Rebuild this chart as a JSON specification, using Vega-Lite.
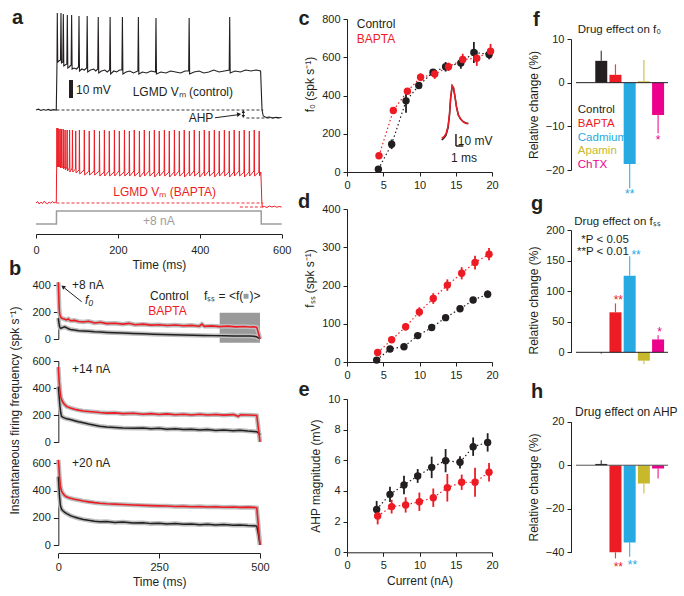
{
"$schema":"https://vega.github.io/schema/vega-lite/v6.json",
"width":684,"height":596,"autosize":{"type":"none"},"padding":0,"background":"white",
"config":{"font":"Liberation Sans","view":{"stroke":null},
"axis":{"grid":false,"domainColor":"#231f20","tickColor":"#231f20","labelColor":"#231f20","titleColor":"#231f20","labelFontSize":11,"titleFontSize":12,"titleFontWeight":"normal","tickSize":4,"labelPadding":3,"titlePadding":5,"labelFlush":false,"labelOverlap":false,"domainWidth":1,"tickWidth":1},
"axisX":{"titleFontWeight":"normal"},"axisY":{"titleFontWeight":"normal"},
"text":{"font":"Liberation Sans","fontSize":12}},
"datasets":{
"aC":[{"t":0,"v":124},{"t":6,"v":124.8},{"t":12,"v":123.6},{"t":18,"v":124.5},{"t":24,"v":123.8},{"t":30,"v":124.6},{"t":36,"v":123.7},{"t":42,"v":124.4},{"t":49.5,"v":124},{"t":50.5,"v":150},{"t":51.3,"v":172},{"t":52,"v":221},{"t":53,"v":172},{"t":56,"v":173},{"t":59.8,"v":174},{"t":61,"v":221},{"t":62.2,"v":171},{"t":65.5,"v":172},{"t":66.7,"v":220},{"t":67.9,"v":168},{"t":71,"v":169},{"t":75.3,"v":170},{"t":76.5,"v":219},{"t":77.7,"v":166},{"t":81,"v":167},{"t":85.8,"v":169},{"t":87,"v":219},{"t":88.2,"v":165},{"t":93,"v":166},{"t":99,"v":165},{"t":103.8,"v":167},{"t":105,"v":218},{"t":106.2,"v":163},{"t":112,"v":165},{"t":118,"v":164},{"t":123.8,"v":166},{"t":125,"v":218},{"t":126.2,"v":162},{"t":133,"v":164},{"t":141,"v":165},{"t":146,"v":163},{"t":150.8,"v":165},{"t":152,"v":217},{"t":153.2,"v":161},{"t":160,"v":163},{"t":168,"v":164},{"t":174,"v":162},{"t":179.8,"v":164},{"t":181,"v":217},{"t":182.2,"v":160},{"t":190,"v":163},{"t":197,"v":162},{"t":204,"v":164},{"t":209.8,"v":164},{"t":211,"v":217},{"t":212.2,"v":160},{"t":220,"v":162},{"t":229,"v":163},{"t":238,"v":161},{"t":248.8,"v":163},{"t":250,"v":217},{"t":251.2,"v":160},{"t":260,"v":162},{"t":270,"v":161},{"t":281,"v":163},{"t":291.8,"v":162},{"t":293,"v":216},{"t":294.2,"v":160},{"t":305,"v":162},{"t":317,"v":161},{"t":329,"v":163},{"t":341,"v":162},{"t":353,"v":161},{"t":364,"v":163},{"t":372.8,"v":163},{"t":374,"v":216},{"t":375.2,"v":160},{"t":386,"v":162},{"t":398,"v":163},{"t":410,"v":161},{"t":422,"v":162},{"t":434,"v":164},{"t":447,"v":162},{"t":460,"v":163},{"t":471.8,"v":164},{"t":473,"v":217},{"t":474.2,"v":161},{"t":486,"v":163},{"t":499,"v":162},{"t":512,"v":164},{"t":525,"v":163},{"t":538,"v":164},{"t":548.5,"v":163},{"t":550.5,"v":140},{"t":552,"v":124},{"t":555,"v":118},{"t":562,"v":116.5},{"t":570,"v":117},{"t":578,"v":116},{"t":586,"v":116.8},{"t":594,"v":116.2},{"t":600,"v":116.5}],
"aB":[{"t":0,"v":31},{"t":4,"v":32.5},{"t":8,"v":30},{"t":12,"v":31.8},{"t":16,"v":30.5},{"t":20,"v":32.8},{"t":24,"v":31},{"t":28,"v":30.2},{"t":32,"v":32},{"t":36,"v":30.8},{"t":40,"v":32.5},{"t":44,"v":31},{"t":48,"v":31.8},{"t":49.6,"v":31.2},{"t":50.2,"v":60},
{"t":50.6,"v":68},{"t":51,"v":106},{"t":51.8,"v":67},{"t":52.8,"v":69},{"t":53.5,"v":106},{"t":54.3,"v":67},{"t":55.3,"v":69},{"t":56,"v":105},{"t":56.8,"v":67},{"t":58.3,"v":69},{"t":59,"v":105},{"t":59.8,"v":66},{"t":61.8,"v":68},{"t":62.5,"v":105},{"t":63.3,"v":66},{"t":65.8,"v":68},{"t":66.5,"v":105},{"t":67.3,"v":65},{"t":70.3,"v":67},{"t":71,"v":104},{"t":71.8,"v":64},{"t":75.3,"v":67},{"t":76,"v":104},{"t":76.8,"v":63},{"t":81.3,"v":66},{"t":82,"v":104},{"t":82.8,"v":62},{"t":88.3,"v":66},{"t":89,"v":104},{"t":89.8,"v":62},{"t":96.3,"v":65},{"t":97,"v":103},{"t":97.8,"v":61},{"t":105.3,"v":64},{"t":106,"v":104},{"t":106.8,"v":60},{"t":117.3,"v":64},{"t":118,"v":104},{"t":118.8,"v":59},{"t":129.3,"v":63},{"t":130,"v":103},{"t":130.8,"v":59},{"t":141.8,"v":63},{"t":142.5,"v":104},{"t":143.3,"v":59},{"t":154.3,"v":63},{"t":155,"v":103},{"t":155.8,"v":58},{"t":166.3,"v":62},{"t":167,"v":104},{"t":167.8,"v":58},{"t":178.3,"v":63},{"t":179,"v":103},{"t":179.8,"v":58},{"t":190.8,"v":62},{"t":191.5,"v":104},{"t":192.3,"v":58},{"t":202.8,"v":63},{"t":203.5,"v":103},{"t":204.3,"v":58},{"t":215.3,"v":62},{"t":216,"v":104},{"t":216.8,"v":58},{"t":227.3,"v":62},{"t":228,"v":103},{"t":228.8,"v":58},{"t":239.3,"v":63},{"t":240,"v":104},{"t":240.8,"v":58},{"t":251.8,"v":62},{"t":252.5,"v":103},{"t":253.3,"v":57},{"t":263.8,"v":62},{"t":264.5,"v":104},{"t":265.3,"v":58},{"t":276.3,"v":63},{"t":277,"v":103},{"t":277.8,"v":58},{"t":288.3,"v":62},{"t":289,"v":104},{"t":289.8,"v":57},{"t":300.3,"v":62},{"t":301,"v":103},{"t":301.8,"v":58},{"t":312.8,"v":63},{"t":313.5,"v":104},{"t":314.3,"v":58},{"t":324.8,"v":62},{"t":325.5,"v":103},{"t":326.3,"v":57},{"t":337.3,"v":62},{"t":338,"v":104},{"t":338.8,"v":58},{"t":349.3,"v":63},{"t":350,"v":103},{"t":350.8,"v":58},{"t":361.3,"v":62},{"t":362,"v":104},{"t":362.8,"v":57},{"t":373.8,"v":62},{"t":374.5,"v":103},{"t":375.3,"v":58},{"t":385.8,"v":63},{"t":386.5,"v":104},{"t":387.3,"v":58},{"t":398.3,"v":62},{"t":399,"v":103},{"t":399.8,"v":57},{"t":410.3,"v":62},{"t":411,"v":104},{"t":411.8,"v":58},{"t":422.3,"v":63},{"t":423,"v":103},{"t":423.8,"v":58},{"t":434.8,"v":62},{"t":435.5,"v":104},{"t":436.3,"v":57},{"t":446.8,"v":62},{"t":447.5,"v":103},{"t":448.3,"v":58},{"t":459.3,"v":63},{"t":460,"v":104},{"t":460.8,"v":58},{"t":471.3,"v":62},{"t":472,"v":103},{"t":472.8,"v":57},{"t":483.3,"v":62},{"t":484,"v":104},{"t":484.8,"v":58},{"t":495.8,"v":63},{"t":496.5,"v":103},{"t":497.3,"v":58},{"t":507.8,"v":62},{"t":508.5,"v":104},{"t":509.3,"v":57},{"t":520.3,"v":62},{"t":521,"v":103},{"t":521.8,"v":58},{"t":532.3,"v":63},{"t":533,"v":104},{"t":533.8,"v":58},{"t":544.3,"v":62},{"t":545,"v":103},{"t":545.8,"v":58},
{"t":549,"v":62},{"t":550.5,"v":45},{"t":551.5,"v":31},{"t":553,"v":27},{"t":558,"v":27.5},{"t":564,"v":26.5},{"t":570,"v":28},{"t":576,"v":27},{"t":582,"v":27.8},{"t":588,"v":26.8},{"t":594,"v":27.5},{"t":600,"v":27}],
"aI":[{"t":0,"v":10},{"t":49.9,"v":10},{"t":50.1,"v":23},{"t":549.9,"v":23},{"t":550.1,"v":10},{"t":600,"v":10}],
"bt":[
{"p":"b1","s":"C","t":0,"v":155},{"p":"b1","s":"C","t":1.5,"v":120},{"p":"b1","s":"C","t":3,"v":92},{"p":"b1","s":"C","t":5,"v":80},{"p":"b1","s":"C","t":8,"v":82},{"p":"b1","s":"C","t":12,"v":86},{"p":"b1","s":"C","t":16,"v":90},{"p":"b1","s":"C","t":20,"v":84},{"p":"b1","s":"C","t":25,"v":76},{"p":"b1","s":"C","t":30,"v":71},{"p":"b1","s":"C","t":40,"v":66},{"p":"b1","s":"C","t":50,"v":62},{"p":"b1","s":"C","t":62,"v":60},{"p":"b1","s":"C","t":75,"v":57},{"p":"b1","s":"C","t":90,"v":54},{"p":"b1","s":"C","t":105,"v":52},{"p":"b1","s":"C","t":120,"v":49},{"p":"b1","s":"C","t":140,"v":46},{"p":"b1","s":"C","t":160,"v":44},{"p":"b1","s":"C","t":185,"v":41},{"p":"b1","s":"C","t":210,"v":38},{"p":"b1","s":"C","t":235,"v":35},{"p":"b1","s":"C","t":260,"v":33},{"p":"b1","s":"C","t":285,"v":31},{"p":"b1","s":"C","t":310,"v":29},{"p":"b1","s":"C","t":335,"v":27},{"p":"b1","s":"C","t":360,"v":26},{"p":"b1","s":"C","t":385,"v":25},{"p":"b1","s":"C","t":410,"v":24},{"p":"b1","s":"C","t":435,"v":23},{"p":"b1","s":"C","t":460,"v":23},{"p":"b1","s":"C","t":475,"v":22},{"p":"b1","s":"C","t":485,"v":21},{"p":"b1","s":"C","t":491,"v":17},{"p":"b1","s":"C","t":495,"v":10},{"p":"b1","s":"C","t":500,"v":2},
{"p":"b1","s":"B","t":0,"v":420},{"p":"b1","s":"B","t":1,"v":330},{"p":"b1","s":"B","t":2,"v":240},{"p":"b1","s":"B","t":3,"v":190},{"p":"b1","s":"B","t":5,"v":165},{"p":"b1","s":"B","t":8,"v":155},{"p":"b1","s":"B","t":12,"v":150},{"p":"b1","s":"B","t":16,"v":146},{"p":"b1","s":"B","t":20,"v":141},{"p":"b1","s":"B","t":25,"v":148},{"p":"b1","s":"B","t":30,"v":135},{"p":"b1","s":"B","t":40,"v":138},{"p":"b1","s":"B","t":50,"v":130},{"p":"b1","s":"B","t":62,"v":126},{"p":"b1","s":"B","t":75,"v":131},{"p":"b1","s":"B","t":90,"v":119},{"p":"b1","s":"B","t":105,"v":124},{"p":"b1","s":"B","t":120,"v":114},{"p":"b1","s":"B","t":140,"v":117},{"p":"b1","s":"B","t":160,"v":110},{"p":"b1","s":"B","t":175,"v":116},{"p":"b1","s":"B","t":190,"v":106},{"p":"b1","s":"B","t":210,"v":110},{"p":"b1","s":"B","t":230,"v":103},{"p":"b1","s":"B","t":250,"v":106},{"p":"b1","s":"B","t":270,"v":100},{"p":"b1","s":"B","t":290,"v":104},{"p":"b1","s":"B","t":310,"v":98},{"p":"b1","s":"B","t":330,"v":101},{"p":"b1","s":"B","t":350,"v":95},{"p":"b1","s":"B","t":356,"v":110},{"p":"b1","s":"B","t":362,"v":94},{"p":"b1","s":"B","t":380,"v":97},{"p":"b1","s":"B","t":400,"v":92},{"p":"b1","s":"B","t":420,"v":95},{"p":"b1","s":"B","t":440,"v":90},{"p":"b1","s":"B","t":460,"v":93},{"p":"b1","s":"B","t":475,"v":89},{"p":"b1","s":"B","t":485,"v":91},{"p":"b1","s":"B","t":492,"v":86},{"p":"b1","s":"B","t":496,"v":45},{"p":"b1","s":"B","t":500,"v":0},
{"p":"b2","s":"C","t":0,"v":410},{"p":"b2","s":"C","t":2,"v":340},{"p":"b2","s":"C","t":4,"v":265},{"p":"b2","s":"C","t":6,"v":215},{"p":"b2","s":"C","t":8,"v":190},{"p":"b2","s":"C","t":12,"v":182},{"p":"b2","s":"C","t":16,"v":177},{"p":"b2","s":"C","t":21,"v":172},{"p":"b2","s":"C","t":30,"v":166},{"p":"b2","s":"C","t":40,"v":158},{"p":"b2","s":"C","t":50,"v":150},{"p":"b2","s":"C","t":62,"v":142},{"p":"b2","s":"C","t":75,"v":133},{"p":"b2","s":"C","t":90,"v":124},{"p":"b2","s":"C","t":103,"v":117},{"p":"b2","s":"C","t":120,"v":112},{"p":"b2","s":"C","t":140,"v":108},{"p":"b2","s":"C","t":160,"v":104},{"p":"b2","s":"C","t":186,"v":101},{"p":"b2","s":"C","t":210,"v":104},{"p":"b2","s":"C","t":230,"v":98},{"p":"b2","s":"C","t":250,"v":101},{"p":"b2","s":"C","t":269,"v":95},{"p":"b2","s":"C","t":290,"v":98},{"p":"b2","s":"C","t":310,"v":92},{"p":"b2","s":"C","t":330,"v":95},{"p":"b2","s":"C","t":351,"v":89},{"p":"b2","s":"C","t":370,"v":92},{"p":"b2","s":"C","t":390,"v":86},{"p":"b2","s":"C","t":410,"v":89},{"p":"b2","s":"C","t":434,"v":84},{"p":"b2","s":"C","t":450,"v":87},{"p":"b2","s":"C","t":470,"v":81},{"p":"b2","s":"C","t":485,"v":78},{"p":"b2","s":"C","t":492,"v":76},{"p":"b2","s":"C","t":497,"v":65},{"p":"b2","s":"C","t":500,"v":52},
{"p":"b2","s":"B","t":0,"v":555},{"p":"b2","s":"B","t":2,"v":450},{"p":"b2","s":"B","t":4,"v":380},{"p":"b2","s":"B","t":6,"v":332},{"p":"b2","s":"B","t":10,"v":300},{"p":"b2","s":"B","t":15,"v":280},{"p":"b2","s":"B","t":21,"v":262},{"p":"b2","s":"B","t":30,"v":252},{"p":"b2","s":"B","t":40,"v":243},{"p":"b2","s":"B","t":50,"v":236},{"p":"b2","s":"B","t":62,"v":230},{"p":"b2","s":"B","t":75,"v":226},{"p":"b2","s":"B","t":90,"v":222},{"p":"b2","s":"B","t":103,"v":218},{"p":"b2","s":"B","t":120,"v":214},{"p":"b2","s":"B","t":140,"v":216},{"p":"b2","s":"B","t":160,"v":210},{"p":"b2","s":"B","t":186,"v":213},{"p":"b2","s":"B","t":210,"v":206},{"p":"b2","s":"B","t":230,"v":210},{"p":"b2","s":"B","t":250,"v":204},{"p":"b2","s":"B","t":269,"v":208},{"p":"b2","s":"B","t":290,"v":202},{"p":"b2","s":"B","t":310,"v":206},{"p":"b2","s":"B","t":330,"v":200},{"p":"b2","s":"B","t":351,"v":205},{"p":"b2","s":"B","t":370,"v":200},{"p":"b2","s":"B","t":390,"v":204},{"p":"b2","s":"B","t":410,"v":199},{"p":"b2","s":"B","t":434,"v":203},{"p":"b2","s":"B","t":446,"v":190},{"p":"b2","s":"B","t":452,"v":202},{"p":"b2","s":"B","t":470,"v":200},{"p":"b2","s":"B","t":485,"v":198},{"p":"b2","s":"B","t":492,"v":196},{"p":"b2","s":"B","t":496,"v":100},{"p":"b2","s":"B","t":500,"v":0},
{"p":"b3","s":"C","t":0,"v":502},{"p":"b3","s":"C","t":1.5,"v":430},{"p":"b3","s":"C","t":3,"v":355},{"p":"b3","s":"C","t":5,"v":292},{"p":"b3","s":"C","t":8,"v":262},{"p":"b3","s":"C","t":12,"v":250},{"p":"b3","s":"C","t":16,"v":240},{"p":"b3","s":"C","t":21,"v":231},{"p":"b3","s":"C","t":30,"v":216},{"p":"b3","s":"C","t":40,"v":205},{"p":"b3","s":"C","t":50,"v":196},{"p":"b3","s":"C","t":62,"v":188},{"p":"b3","s":"C","t":75,"v":181},{"p":"b3","s":"C","t":90,"v":175},{"p":"b3","s":"C","t":103,"v":171},{"p":"b3","s":"C","t":120,"v":173},{"p":"b3","s":"C","t":140,"v":166},{"p":"b3","s":"C","t":160,"v":168},{"p":"b3","s":"C","t":186,"v":161},{"p":"b3","s":"C","t":210,"v":163},{"p":"b3","s":"C","t":230,"v":157},{"p":"b3","s":"C","t":250,"v":159},{"p":"b3","s":"C","t":269,"v":154},{"p":"b3","s":"C","t":290,"v":157},{"p":"b3","s":"C","t":310,"v":152},{"p":"b3","s":"C","t":330,"v":154},{"p":"b3","s":"C","t":351,"v":149},{"p":"b3","s":"C","t":370,"v":152},{"p":"b3","s":"C","t":390,"v":147},{"p":"b3","s":"C","t":410,"v":150},{"p":"b3","s":"C","t":434,"v":145},{"p":"b3","s":"C","t":450,"v":147},{"p":"b3","s":"C","t":470,"v":143},{"p":"b3","s":"C","t":485,"v":141},{"p":"b3","s":"C","t":492,"v":138},{"p":"b3","s":"C","t":496,"v":80},{"p":"b3","s":"C","t":500,"v":0},
{"p":"b3","s":"B","t":0,"v":625},{"p":"b3","s":"B","t":1.5,"v":570},{"p":"b3","s":"B","t":3,"v":500},{"p":"b3","s":"B","t":5,"v":432},{"p":"b3","s":"B","t":8,"v":396},{"p":"b3","s":"B","t":12,"v":376},{"p":"b3","s":"B","t":16,"v":362},{"p":"b3","s":"B","t":21,"v":352},{"p":"b3","s":"B","t":30,"v":343},{"p":"b3","s":"B","t":40,"v":336},{"p":"b3","s":"B","t":50,"v":330},{"p":"b3","s":"B","t":62,"v":323},{"p":"b3","s":"B","t":75,"v":317},{"p":"b3","s":"B","t":90,"v":311},{"p":"b3","s":"B","t":103,"v":307},{"p":"b3","s":"B","t":120,"v":303},{"p":"b3","s":"B","t":140,"v":300},{"p":"b3","s":"B","t":160,"v":297},{"p":"b3","s":"B","t":186,"v":294},{"p":"b3","s":"B","t":210,"v":291},{"p":"b3","s":"B","t":230,"v":289},{"p":"b3","s":"B","t":250,"v":287},{"p":"b3","s":"B","t":269,"v":286},{"p":"b3","s":"B","t":290,"v":283},{"p":"b3","s":"B","t":310,"v":284},{"p":"b3","s":"B","t":330,"v":281},{"p":"b3","s":"B","t":351,"v":282},{"p":"b3","s":"B","t":370,"v":279},{"p":"b3","s":"B","t":390,"v":280},{"p":"b3","s":"B","t":410,"v":277},{"p":"b3","s":"B","t":434,"v":279},{"p":"b3","s":"B","t":450,"v":276},{"p":"b3","s":"B","t":470,"v":278},{"p":"b3","s":"B","t":485,"v":276},{"p":"b3","s":"B","t":492,"v":273},{"p":"b3","s":"B","t":496,"v":140},{"p":"b3","s":"B","t":500,"v":0}],
"sc":[
{"p":"c","g":"Control","x":4.33,"y":15,"e":6},{"p":"c","g":"Control","x":6.16,"y":145,"e":25},{"p":"c","g":"Control","x":8.14,"y":372,"e":62},{"p":"c","g":"Control","x":9.9,"y":452,"e":15},{"p":"c","g":"Control","x":11.86,"y":522,"e":15},{"p":"c","g":"Control","x":13.6,"y":550,"e":25},{"p":"c","g":"Control","x":15.7,"y":570,"e":30},{"p":"c","g":"Control","x":17.5,"y":625,"e":55},{"p":"c","g":"Control","x":19.6,"y":615,"e":25},
{"p":"c","g":"BAPTA","x":4.41,"y":85,"e":15},{"p":"c","g":"BAPTA","x":6.39,"y":322,"e":12},{"p":"c","g":"BAPTA","x":8.33,"y":422,"e":12},{"p":"c","g":"BAPTA","x":10.15,"y":495,"e":20},{"p":"c","g":"BAPTA","x":12.1,"y":512,"e":25},{"p":"c","g":"BAPTA","x":14,"y":550,"e":22},{"p":"c","g":"BAPTA","x":15.96,"y":588,"e":30},{"p":"c","g":"BAPTA","x":17.9,"y":595,"e":40},{"p":"c","g":"BAPTA","x":19.8,"y":632,"e":38},
{"p":"d","g":"Control","x":4.09,"y":5,"e":3},{"p":"d","g":"Control","x":5.93,"y":34,"e":5},{"p":"d","g":"Control","x":7.86,"y":40,"e":5},{"p":"d","g":"Control","x":9.75,"y":69,"e":6},{"p":"d","g":"Control","x":11.68,"y":90,"e":7},{"p":"d","g":"Control","x":13.6,"y":116,"e":7},{"p":"d","g":"Control","x":15.59,"y":139,"e":8},{"p":"d","g":"Control","x":17.4,"y":162,"e":8},{"p":"d","g":"Control","x":19.4,"y":177,"e":10},
{"p":"d","g":"BAPTA","x":4.23,"y":25,"e":6},{"p":"d","g":"BAPTA","x":6.16,"y":58,"e":8},{"p":"d","g":"BAPTA","x":8.09,"y":92,"e":10},{"p":"d","g":"BAPTA","x":9.98,"y":131,"e":12},{"p":"d","g":"BAPTA","x":11.9,"y":166,"e":14},{"p":"d","g":"BAPTA","x":13.84,"y":201,"e":15},{"p":"d","g":"BAPTA","x":15.82,"y":232,"e":16},{"p":"d","g":"BAPTA","x":17.66,"y":260,"e":18},{"p":"d","g":"BAPTA","x":19.59,"y":282,"e":16},
{"p":"e","g":"Control","x":4.09,"y":2.8,"e":0.55},{"p":"e","g":"Control","x":5.93,"y":3.78,"e":0.5},{"p":"e","g":"Control","x":7.86,"y":4.39,"e":0.6},{"p":"e","g":"Control","x":9.75,"y":4.98,"e":0.45},{"p":"e","g":"Control","x":11.68,"y":5.54,"e":0.7},{"p":"e","g":"Control","x":13.6,"y":5.98,"e":0.76},{"p":"e","g":"Control","x":15.59,"y":5.87,"e":0.4},{"p":"e","g":"Control","x":17.4,"y":6.89,"e":0.6},{"p":"e","g":"Control","x":19.4,"y":7.17,"e":0.6},
{"p":"e","g":"BAPTA","x":4.23,"y":2.37,"e":0.55},{"p":"e","g":"BAPTA","x":6.16,"y":2.98,"e":0.45},{"p":"e","g":"BAPTA","x":8.09,"y":3.09,"e":0.5},{"p":"e","g":"BAPTA","x":9.98,"y":3.3,"e":0.6},{"p":"e","g":"BAPTA","x":11.9,"y":3.56,"e":0.6},{"p":"e","g":"BAPTA","x":13.84,"y":4.21,"e":0.9},{"p":"e","g":"BAPTA","x":15.82,"y":4.57,"e":0.5},{"p":"e","g":"BAPTA","x":17.66,"y":4.57,"e":0.95},{"p":"e","g":"BAPTA","x":19.59,"y":5.22,"e":0.6}],
"bars":[
{"p":"f","g":"Control","i":1,"v":5,"ee":7.3},{"p":"f","g":"BAPTA","i":2,"v":1.8,"ee":4.2},{"p":"f","g":"Cadmium","i":3,"v":-18.6,"ee":-24.2},{"p":"f","g":"Apamin","i":4,"v":0.3,"ee":5.2},{"p":"f","g":"ChTX","i":5,"v":-7.4,"ee":-11.6},
{"p":"g","g":"Control","i":1,"v":0,"ee":-2},{"p":"g","g":"BAPTA","i":2,"v":65.4,"ee":80},{"p":"g","g":"Cadmium","i":3,"v":125,"ee":157},{"p":"g","g":"Apamin","i":4,"v":-13.7,"ee":-19},{"p":"g","g":"ChTX","i":5,"v":21,"ee":28},
{"p":"h","g":"Control","i":1,"v":0.6,"ee":2.3},{"p":"h","g":"BAPTA","i":2,"v":-40,"ee":-42.8},{"p":"h","g":"Cadmium","i":3,"v":-35.5,"ee":-42},{"p":"h","g":"Apamin","i":4,"v":-8.4,"ee":-13},{"p":"h","g":"ChTX","i":5,"v":-1.5,"ee":-6.1}]
},
"resolve":{"scale":{"x":"independent","y":"independent"}},
"layer":[
{"layer":[
 {"data":{"name":"aI"},"mark":{"type":"line","color":"#9d9d9d","strokeWidth":1.5},
  "encoding":{"x":{"field":"t","type":"quantitative","scale":{"domain":[0,600],"range":[36,281.7],"nice":false,"zero":false},"axis":{"orient":"bottom","offset":-362,"values":[0,200,400,600],"title":"Time (ms)","titleFontWeight":"normal","labelPadding":6,"titlePadding":4}},
   "y":{"field":"v","type":"quantitative","scale":{"domain":[0,220],"range":[234,14],"nice":false,"zero":false},"axis":null}}},
 {"data":{"name":"aC"},"mark":{"type":"line","color":"#231f20","strokeWidth":1.1},"encoding":{"x":{"field":"t","type":"quantitative"},"y":{"field":"v","type":"quantitative","axis":null}}},
 {"data":{"name":"aB"},"mark":{"type":"line","color":"#ed1c24","strokeWidth":1},"encoding":{"x":{"field":"t","type":"quantitative"},"y":{"field":"v","type":"quantitative","axis":null}}},
 {"data":{"values":[{"t1":50,"t2":555,"v":124,"g":"Control"},{"t1":514,"t2":595,"v":116,"g":"Control"},{"t1":50,"t2":555,"v":31,"g":"BAPTA"},{"t1":498,"t2":555,"v":27,"g":"BAPTA"}]},"mark":{"type":"rule","strokeDash":[3,2],"strokeWidth":0.9},
  "encoding":{"x":{"field":"t1","type":"quantitative"},"x2":{"field":"t2"},"y":{"field":"v","type":"quantitative","axis":null},"color":{"field":"g","type":"nominal","scale":{"domain":["Control","BAPTA","Current","Cadmium","Apamin","ChTX"],"range":["#231f20","#ed1c24","#9d9d9d","#27aae1","#c8b82c","#ec008c"]},"legend":null}}},
 {"data":{"values":[{}]},"mark":{"type":"rule","strokeWidth":4,"color":"#231f20"},"encoding":{"x":{"datum":85.5,"type":"quantitative"},"y":{"datum":136,"type":"quantitative","axis":null},"y2":{"datum":154}}},
 {"data":{"values":[{}]},"mark":{"type":"rule","strokeWidth":1,"color":"#231f20"},"encoding":{"x":{"datum":437,"type":"quantitative"},"x2":{"datum":494},"y":{"datum":116.2,"type":"quantitative","axis":null},"y2":{"datum":119.3}}},
 {"data":{"values":[{}]},"mark":{"type":"point","shape":"triangle-right","filled":true,"size":22,"angle":-8,"color":"#231f20","opacity":1},"encoding":{"x":{"datum":496,"type":"quantitative"},"y":{"datum":119.6,"type":"quantitative","axis":null}}},
 {"data":{"values":[{}]},"mark":{"type":"rule","strokeWidth":1,"color":"#231f20"},"encoding":{"x":{"datum":506.3,"type":"quantitative"},"y":{"datum":116.8,"type":"quantitative","axis":null},"y2":{"datum":123.2}}},
 {"data":{"values":[{"y":122.4,"sh":"triangle-up"},{"y":117.6,"sh":"triangle-down"}]},"mark":{"type":"point","filled":true,"size":12,"color":"#231f20","opacity":1},"encoding":{"x":{"datum":506.3,"type":"quantitative"},"y":{"field":"y","type":"quantitative","axis":null},"shape":{"field":"sh","type":"nominal","scale":null}}},
 {"data":{"values":[{"x":97.7,"y":144,"txt":"10 mV","g":"Control"},{"x":236,"y":142,"txt":"LGMD Vₘ (control)","g":"Control"},{"x":188.8,"y":42,"txt":"LGMD Vₘ (BAPTA)","g":"BAPTA"}]},"mark":{"type":"text","align":"left","baseline":"middle","fontSize":12},
  "encoding":{"x":{"field":"x","type":"quantitative"},"y":{"field":"y","type":"quantitative","axis":null},"text":{"field":"txt"},"color":{"field":"g","type":"nominal","legend":null}}},
 {"data":{"values":[{"x":433,"y":115.7,"txt":"AHP"}]},"mark":{"type":"text","align":"right","baseline":"middle","fontSize":12,"color":"#231f20"},"encoding":{"x":{"field":"x","type":"quantitative"},"y":{"field":"y","type":"quantitative","axis":null},"text":{"field":"txt"}}},
 {"data":{"values":[{"x":300,"y":13.3,"txt":"+8 nA"}]},"mark":{"type":"text","align":"center","baseline":"middle","fontSize":12,"color":"#9d9d9d"},"encoding":{"x":{"field":"x","type":"quantitative"},"y":{"field":"y","type":"quantitative","axis":null},"text":{"field":"txt"}}},
 {"data":{"values":[{"x":-45,"y":216,"txt":"a"}]},"mark":{"type":"text","align":"center","baseline":"middle","fontSize":20,"fontWeight":"bold","color":"#231f20"},"encoding":{"x":{"field":"x","type":"quantitative"},"y":{"field":"y","type":"quantitative","axis":null},"text":{"field":"txt"}}}
]},
{"layer":[
 {"data":{"values":[{}]},"mark":{"type":"rect","color":"#9a9a9a"},"encoding":{"x":{"datum":400,"type":"quantitative","axis":null},"x2":{"datum":500},"y":{"datum":-28,"type":"quantitative"},"y2":{"datum":195}}},
 {"data":{"name":"bt"},"transform":[{"filter":"datum.p==='b1'"}],"mark":{"type":"line","color":"#bdbdbd","strokeWidth":4.5},
  "encoding":{"x":{"field":"t","type":"quantitative","scale":{"domain":[0,500],"range":[58.33,260],"nice":false,"zero":false},"axis":null},
   "y":{"field":"v","type":"quantitative","scale":{"domain":[0,400],"range":[339,285],"nice":false,"zero":false},"axis":{"orient":"left","offset":-58.33,"values":[0,200,400],"title":null,"tickSize":5}},"detail":{"field":"s"}}},
 {"data":{"name":"bt"},"transform":[{"filter":"datum.p==='b1' && datum.s==='C'"}],"mark":{"type":"line","color":"#231f20","strokeWidth":1.5},"encoding":{"x":{"field":"t","type":"quantitative","axis":null},"y":{"field":"v","type":"quantitative"}}},
 {"data":{"name":"bt"},"transform":[{"filter":"datum.p==='b1' && datum.s==='B'"}],"mark":{"type":"line","color":"#ed1c24","strokeWidth":1.6},"encoding":{"x":{"field":"t","type":"quantitative","axis":null},"y":{"field":"v","type":"quantitative"}}},
 {"data":{"values":[{}]},"mark":{"type":"rule","strokeWidth":1,"color":"#231f20"},"encoding":{"x":{"datum":57.9,"type":"quantitative","axis":null},"x2":{"datum":15},"y":{"datum":276,"type":"quantitative"},"y2":{"datum":378}}},
 {"data":{"values":[{}]},"mark":{"type":"point","shape":"triangle-right","filled":true,"size":22,"angle":-141,"color":"#231f20","opacity":1},"encoding":{"x":{"datum":11.6,"type":"quantitative","axis":null},"y":{"datum":387,"type":"quantitative"}}},
 {"data":{"values":[{"x":33.9,"y":400,"txt":"+8 nA","g":"Control"},{"x":227.3,"y":318.5,"txt":"Control","g":"Control"},{"x":223,"y":207,"txt":"BAPTA","g":"BAPTA"},{"x":361,"y":318.5,"txt":"fₛₛ = <f(","g":"Control"},{"x":474,"y":318.5,"txt":")>","g":"Control"}]},"mark":{"type":"text","align":"left","baseline":"middle","fontSize":12},
  "encoding":{"x":{"field":"x","type":"quantitative","axis":null},"y":{"field":"y","type":"quantitative"},"text":{"field":"txt"},"color":{"field":"g","type":"nominal","legend":null}}},
 {"data":{"values":[{"x":66,"y":289,"txt":"f₀"}]},"mark":{"type":"text","align":"left","baseline":"middle","fontSize":12,"fontStyle":"italic","color":"#231f20"},"encoding":{"x":{"field":"x","type":"quantitative","axis":null},"y":{"field":"y","type":"quantitative"},"text":{"field":"txt"}}},
 {"data":{"values":[{"x":465,"y":318.5,"txt":"■"}]},"mark":{"type":"text","align":"center","baseline":"middle","fontSize":10,"color":"#9a9a9a"},"encoding":{"x":{"field":"x","type":"quantitative","axis":null},"y":{"field":"y","type":"quantitative"},"text":{"field":"txt"}}},
 {"data":{"values":[{"x":-107.4,"y":518,"txt":"b"}]},"mark":{"type":"text","align":"center","baseline":"middle","fontSize":20,"fontWeight":"bold","color":"#231f20"},"encoding":{"x":{"field":"x","type":"quantitative","axis":null},"y":{"field":"y","type":"quantitative"},"text":{"field":"txt"}}}
]},
{"layer":[
 {"data":{"name":"bt"},"transform":[{"filter":"datum.p==='b2'"}],"mark":{"type":"line","color":"#bdbdbd","strokeWidth":4.5},
  "encoding":{"x":{"field":"t","type":"quantitative","scale":{"domain":[0,500],"range":[58.33,260],"nice":false,"zero":false},"axis":null},
   "y":{"field":"v","type":"quantitative","scale":{"domain":[0,600],"range":[442,361],"nice":false,"zero":false},"axis":{"orient":"left","offset":-58.33,"values":[0,200,400,600],"title":"Instantaneous firing frequency (spk s⁻¹)","titleFontWeight":"normal","titleX":-37,"titleY":410,"tickSize":5}},"detail":{"field":"s"}}},
 {"data":{"name":"bt"},"transform":[{"filter":"datum.p==='b2' && datum.s==='C'"}],"mark":{"type":"line","color":"#231f20","strokeWidth":1.5},"encoding":{"x":{"field":"t","type":"quantitative","axis":null},"y":{"field":"v","type":"quantitative"}}},
 {"data":{"name":"bt"},"transform":[{"filter":"datum.p==='b2' && datum.s==='B'"}],"mark":{"type":"line","color":"#ed1c24","strokeWidth":1.6},"encoding":{"x":{"field":"t","type":"quantitative","axis":null},"y":{"field":"v","type":"quantitative"}}},
 {"data":{"values":[{"x":33.9,"y":540.7,"txt":"+14 nA"}]},"mark":{"type":"text","align":"left","baseline":"middle","fontSize":12,"color":"#231f20"},"encoding":{"x":{"field":"x","type":"quantitative","axis":null},"y":{"field":"y","type":"quantitative"},"text":{"field":"txt"}}}
]},
{"layer":[
 {"data":{"name":"bt"},"transform":[{"filter":"datum.p==='b3'"}],"mark":{"type":"line","color":"#bdbdbd","strokeWidth":4.5},
  "encoding":{"x":{"field":"t","type":"quantitative","scale":{"domain":[0,500],"range":[58.33,260],"nice":false,"zero":false},"axis":{"orient":"bottom","offset":-43,"values":[0,250,500],"title":"Time (ms)","titleFontWeight":"normal","tickSize":5,"titlePadding":4}},
   "y":{"field":"v","type":"quantitative","scale":{"domain":[0,600],"range":[545,463.3],"nice":false,"zero":false},"axis":{"orient":"left","offset":-58.33,"values":[0,200,400,600],"title":null,"tickSize":5}},"detail":{"field":"s"}}},
 {"data":{"name":"bt"},"transform":[{"filter":"datum.p==='b3' && datum.s==='C'"}],"mark":{"type":"line","color":"#231f20","strokeWidth":1.5},"encoding":{"x":{"field":"t","type":"quantitative"},"y":{"field":"v","type":"quantitative"}}},
 {"data":{"name":"bt"},"transform":[{"filter":"datum.p==='b3' && datum.s==='B'"}],"mark":{"type":"line","color":"#ed1c24","strokeWidth":1.6},"encoding":{"x":{"field":"t","type":"quantitative"},"y":{"field":"v","type":"quantitative"}}},
 {"data":{"values":[{"x":33.9,"y":600,"txt":"+20 nA"}]},"mark":{"type":"text","align":"left","baseline":"middle","fontSize":12,"color":"#231f20"},"encoding":{"x":{"field":"x","type":"quantitative"},"y":{"field":"y","type":"quantitative"},"text":{"field":"txt"}}}
]},
{"layer":[
 {"data":{"name":"sc"},"transform":[{"filter":"datum.p==='c'"}],"mark":{"type":"line","strokeDash":[1.5,2.5],"strokeWidth":1.2},
  "encoding":{"x":{"field":"x","type":"quantitative","scale":{"domain":[0,20],"range":[347,492],"nice":false,"zero":false},"axis":{"orient":"bottom","offset":-424,"values":[0,5,10,15,20],"title":null}},
   "y":{"field":"y","type":"quantitative","scale":{"domain":[0,800],"range":[172,19],"nice":false,"zero":false},"axis":{"orient":"left","offset":-347,"values":[0,200,400,600,800],"title":"f₀ (spk s⁻¹)","titleFontWeight":"normal","titleY":84}},
   "color":{"field":"g","type":"nominal","legend":null}}},
 {"data":{"name":"sc"},"transform":[{"filter":"datum.p==='c'"}],"mark":{"type":"errorbar","ticks":false,"rule":{"strokeWidth":1.8}},"encoding":{"x":{"field":"x","type":"quantitative","title":null},"y":{"field":"y","type":"quantitative","title":"f₀ (spk s⁻¹)"},"yError":{"field":"e"},"color":{"field":"g","type":"nominal","legend":null}}},
 {"data":{"name":"sc"},"transform":[{"filter":"datum.p==='c'"}],"mark":{"type":"point","filled":true,"size":55,"opacity":1},"encoding":{"x":{"field":"x","type":"quantitative"},"y":{"field":"y","type":"quantitative"},"color":{"field":"g","type":"nominal","legend":null}}},
 {"data":{"values":[{"g":"Control","x":13.06,"y":167},{"g":"Control","x":13.38,"y":178},{"g":"Control","x":13.66,"y":193},{"g":"Control","x":13.93,"y":230},{"g":"Control","x":14.14,"y":298},{"g":"Control","x":14.3,"y":387},{"g":"Control","x":14.52,"y":450},{"g":"Control","x":14.69,"y":439},{"g":"Control","x":14.9,"y":392},{"g":"Control","x":15.1,"y":340},{"g":"Control","x":15.35,"y":298},{"g":"Control","x":15.66,"y":277},{"g":"Control","x":16.04,"y":263},{"g":"Control","x":16.41,"y":256},{"g":"Control","x":16.73,"y":255},
  {"g":"BAPTA","x":13.06,"y":176},{"g":"BAPTA","x":13.38,"y":185},{"g":"BAPTA","x":13.66,"y":200},{"g":"BAPTA","x":13.93,"y":238},{"g":"BAPTA","x":14.14,"y":305},{"g":"BAPTA","x":14.3,"y":392},{"g":"BAPTA","x":14.5,"y":452},{"g":"BAPTA","x":14.69,"y":441},{"g":"BAPTA","x":14.9,"y":394},{"g":"BAPTA","x":15.1,"y":342},{"g":"BAPTA","x":15.35,"y":300},{"g":"BAPTA","x":15.66,"y":278},{"g":"BAPTA","x":16.04,"y":262},{"g":"BAPTA","x":16.41,"y":254},{"g":"BAPTA","x":16.73,"y":252}]},
  "mark":{"type":"line","strokeWidth":1.5},"encoding":{"x":{"field":"x","type":"quantitative"},"y":{"field":"y","type":"quantitative"},"color":{"field":"g","type":"nominal","legend":null}}},
 {"data":{"values":[{"x":15.03,"x2":15.03,"y":136,"y2":199},{"x":15.03,"x2":16.04,"y":136,"y2":136}]},"mark":{"type":"rule","strokeWidth":1.5,"color":"#231f20"},"encoding":{"x":{"field":"x","type":"quantitative"},"x2":{"field":"x2"},"y":{"field":"y","type":"quantitative"},"y2":{"field":"y2"}}},
 {"data":{"values":[{"x":1.34,"y":774,"txt":"Control","g":"Control"},{"x":1.34,"y":694,"txt":"BAPTA","g":"BAPTA"},{"x":15.27,"y":164,"txt":"10 mV","g":"Control"}]},"mark":{"type":"text","align":"left","baseline":"middle","fontSize":12},
  "encoding":{"x":{"field":"x","type":"quantitative"},"y":{"field":"y","type":"quantitative"},"text":{"field":"txt"},"color":{"field":"g","type":"nominal","legend":null}}},
 {"data":{"values":[{"x":16.14,"y":72,"txt":"1 ms"}]},"mark":{"type":"text","align":"center","baseline":"middle","fontSize":12,"color":"#231f20"},"encoding":{"x":{"field":"x","type":"quantitative"},"y":{"field":"y","type":"quantitative"},"text":{"field":"txt"}}},
 {"data":{"values":[{"x":-5.93,"y":800,"txt":"c"}]},"mark":{"type":"text","align":"center","baseline":"middle","fontSize":20,"fontWeight":"bold","color":"#231f20"},"encoding":{"x":{"field":"x","type":"quantitative"},"y":{"field":"y","type":"quantitative"},"text":{"field":"txt"}}}
]},
{"layer":[
 {"data":{"name":"sc"},"transform":[{"filter":"datum.p==='d'"}],"mark":{"type":"line","strokeDash":[1.5,2.5],"strokeWidth":1.2},
  "encoding":{"x":{"field":"x","type":"quantitative","scale":{"domain":[0,20],"range":[347,492],"nice":false,"zero":false},"axis":{"orient":"bottom","offset":-234,"values":[0,5,10,15,20],"title":null}},
   "y":{"field":"y","type":"quantitative","scale":{"domain":[0,400],"range":[362,209],"nice":false,"zero":false},"axis":{"orient":"left","offset":-347,"values":[0,100,200,300,400],"title":"fₛₛ (spk s⁻¹)","titleFontWeight":"normal","titleY":278}},
   "color":{"field":"g","type":"nominal","legend":null}}},
 {"data":{"name":"sc"},"transform":[{"filter":"datum.p==='d'"}],"mark":{"type":"errorbar","ticks":false,"rule":{"strokeWidth":1.8}},"encoding":{"x":{"field":"x","type":"quantitative","title":null},"y":{"field":"y","type":"quantitative","title":"fₛₛ (spk s⁻¹)"},"yError":{"field":"e"},"color":{"field":"g","type":"nominal","legend":null}}},
 {"data":{"name":"sc"},"transform":[{"filter":"datum.p==='d'"}],"mark":{"type":"point","filled":true,"size":55,"opacity":1},"encoding":{"x":{"field":"x","type":"quantitative"},"y":{"field":"y","type":"quantitative"},"color":{"field":"g","type":"nominal","legend":null}}},
 {"data":{"values":[{"x":-5.93,"y":418,"txt":"d"}]},"mark":{"type":"text","align":"center","baseline":"middle","fontSize":20,"fontWeight":"bold","color":"#231f20"},"encoding":{"x":{"field":"x","type":"quantitative"},"y":{"field":"y","type":"quantitative"},"text":{"field":"txt"}}}
]},
{"layer":[
 {"data":{"name":"sc"},"transform":[{"filter":"datum.p==='e'"}],"mark":{"type":"line","strokeDash":[1.5,2.5],"strokeWidth":1.2},
  "encoding":{"x":{"field":"x","type":"quantitative","scale":{"domain":[0,20],"range":[347,492],"nice":false,"zero":false},"axis":{"orient":"bottom","offset":-43.7,"values":[0,5,10,15,20],"title":"Current (nA)","titleFontWeight":"normal"}},
   "y":{"field":"y","type":"quantitative","scale":{"domain":[0,10],"range":[552.3,399],"nice":false,"zero":false},"axis":{"orient":"left","offset":-347,"values":[0,2,4,6,8,10],"format":"d","title":"AHP magnitude (mV)","titleFontWeight":"normal"}},
   "color":{"field":"g","type":"nominal","legend":null}}},
 {"data":{"name":"sc"},"transform":[{"filter":"datum.p==='e'"}],"mark":{"type":"errorbar","ticks":false,"rule":{"strokeWidth":1.8}},"encoding":{"x":{"field":"x","type":"quantitative","title":"Current (nA)"},"y":{"field":"y","type":"quantitative","title":"AHP magnitude (mV)"},"yError":{"field":"e"},"color":{"field":"g","type":"nominal","legend":null}}},
 {"data":{"name":"sc"},"transform":[{"filter":"datum.p==='e'"}],"mark":{"type":"point","filled":true,"size":55,"opacity":1},"encoding":{"x":{"field":"x","type":"quantitative"},"y":{"field":"y","type":"quantitative"},"color":{"field":"g","type":"nominal","legend":null}}},
 {"data":{"values":[{"x":-5.93,"y":10.59,"txt":"e"}]},"mark":{"type":"text","align":"center","baseline":"middle","fontSize":20,"fontWeight":"bold","color":"#231f20"},"encoding":{"x":{"field":"x","type":"quantitative"},"y":{"field":"y","type":"quantitative"},"text":{"field":"txt"}}}
]},
{"layer":[
 {"data":{"name":"bars"},"transform":[{"filter":"datum.p==='f'"}],"mark":{"type":"rule","strokeWidth":1.2,"opacity":0.85},
  "encoding":{"x":{"field":"i","type":"quantitative","scale":{"domain":[-0.778,5.698],"range":[571,673],"nice":false,"zero":false},"axis":null},
   "y":{"field":"v","type":"quantitative","scale":{"domain":[-20,10],"range":[170,39],"nice":false,"zero":false},"axis":{"orient":"left","offset":-571,"values":[-20,-10,0,10],"title":"Relative change (%)","titleFontWeight":"normal"}},"y2":{"field":"ee"},
   "color":{"field":"g","type":"nominal","legend":null}}},
 {"data":{"name":"bars"},"transform":[{"filter":"datum.p==='f'"}],"mark":{"type":"bar","width":12},"encoding":{"x":{"field":"i","type":"quantitative","axis":null},"y":{"field":"v","type":"quantitative"},"y2":{"datum":0},"color":{"field":"g","type":"nominal","legend":null}}},
 {"data":{"values":[{}]},"mark":{"type":"rule","color":"#231f20","strokeWidth":1},"encoding":{"x":{"datum":-0.778,"type":"quantitative","axis":null},"x2":{"datum":5.698},"y":{"datum":0,"type":"quantitative"}}},
 {"data":{"values":[{"x":-0.65,"y":12.07,"txt":"Drug effect on f₀","g":"Control"},{"x":-0.65,"y":-6.25,"txt":"Control","g":"Control"},{"x":-0.65,"y":-9.4,"txt":"BAPTA","g":"BAPTA"},{"x":-0.65,"y":-12.56,"txt":"Cadmium","g":"Cadmium"},{"x":-0.65,"y":-15.71,"txt":"Apamin","g":"Apamin"},{"x":-0.65,"y":-18.86,"txt":"ChTX","g":"ChTX"}]},"mark":{"type":"text","align":"left","baseline":"middle","fontSize":11.5},
  "encoding":{"x":{"field":"x","type":"quantitative","axis":null},"y":{"field":"y","type":"quantitative"},"text":{"field":"txt"},"color":{"field":"g","type":"nominal","legend":null}}},
 {"data":{"values":[{"x":3,"y":-25.5,"txt":"**","g":"Cadmium"},{"x":5,"y":-13.1,"txt":"*","g":"ChTX"}]},"mark":{"type":"text","align":"center","baseline":"middle","fontSize":12},
  "encoding":{"x":{"field":"x","type":"quantitative","axis":null},"y":{"field":"y","type":"quantitative"},"text":{"field":"txt"},"color":{"field":"g","type":"nominal","legend":null}}},
 {"data":{"values":[{"x":-3.57,"y":14.36,"txt":"f"}]},"mark":{"type":"text","align":"center","baseline":"middle","fontSize":20,"fontWeight":"bold","color":"#231f20"},"encoding":{"x":{"field":"x","type":"quantitative","axis":null},"y":{"field":"y","type":"quantitative"},"text":{"field":"txt"}}}
]},
{"layer":[
 {"data":{"name":"bars"},"transform":[{"filter":"datum.p==='g'"}],"mark":{"type":"rule","strokeWidth":1.2,"opacity":0.85},
  "encoding":{"x":{"field":"i","type":"quantitative","scale":{"domain":[-0.778,5.698],"range":[571,673],"nice":false,"zero":false},"axis":null},
   "y":{"field":"v","type":"quantitative","scale":{"domain":[0,200],"range":[352.3,230],"nice":false,"zero":false},"axis":{"orient":"left","offset":-571,"values":[0,50,100,150,200],"title":"Relative change (%)","titleFontWeight":"normal","titleY":300}},"y2":{"field":"ee"},
   "color":{"field":"g","type":"nominal","legend":null}}},
 {"data":{"name":"bars"},"transform":[{"filter":"datum.p==='g'"}],"mark":{"type":"bar","width":12},"encoding":{"x":{"field":"i","type":"quantitative","axis":null},"y":{"field":"v","type":"quantitative"},"y2":{"datum":0},"color":{"field":"g","type":"nominal","legend":null}}},
 {"data":{"values":[{}]},"mark":{"type":"rule","color":"#231f20","strokeWidth":1},"encoding":{"x":{"datum":-0.778,"type":"quantitative","axis":null},"x2":{"datum":5.698},"y":{"datum":0,"type":"quantitative"}}},
 {"data":{"values":[{"x":-0.9,"y":213,"txt":"Drug effect on fₛₛ","g":"Control"},{"x":-0.4,"y":183.6,"txt":"*P < 0.05","g":"Control"},{"x":-0.71,"y":164,"txt":"**P < 0.01","g":"Control"}]},"mark":{"type":"text","align":"left","baseline":"middle","fontSize":11.5},
  "encoding":{"x":{"field":"x","type":"quantitative","axis":null},"y":{"field":"y","type":"quantitative"},"text":{"field":"txt"},"color":{"field":"g","type":"nominal","legend":null}}},
 {"data":{"values":[{"x":2.2,"y":85.6,"txt":"**","g":"BAPTA"},{"x":3.45,"y":159,"txt":"**","g":"Cadmium"},{"x":5.1,"y":32.4,"txt":"*","g":"ChTX"}]},"mark":{"type":"text","align":"center","baseline":"middle","fontSize":12},
  "encoding":{"x":{"field":"x","type":"quantitative","axis":null},"y":{"field":"y","type":"quantitative"},"text":{"field":"txt"},"color":{"field":"g","type":"nominal","legend":null}}},
 {"data":{"values":[{"x":-3.51,"y":242,"txt":"g"}]},"mark":{"type":"text","align":"center","baseline":"middle","fontSize":20,"fontWeight":"bold","color":"#231f20"},"encoding":{"x":{"field":"x","type":"quantitative","axis":null},"y":{"field":"y","type":"quantitative"},"text":{"field":"txt"}}}
]},
{"layer":[
 {"data":{"name":"bars"},"transform":[{"filter":"datum.p==='h'"}],"mark":{"type":"rule","strokeWidth":1.2,"opacity":0.85},
  "encoding":{"x":{"field":"i","type":"quantitative","scale":{"domain":[-0.778,5.698],"range":[571,673],"nice":false,"zero":false},"axis":null},
   "y":{"field":"v","type":"quantitative","scale":{"domain":[-40,20],"range":[552.3,421.7],"nice":false,"zero":false},"axis":{"orient":"left","offset":-571,"values":[-40,-20,0,20],"title":"Relative change (%)","titleFontWeight":"normal"}},"y2":{"field":"ee"},
   "color":{"field":"g","type":"nominal","legend":null}}},
 {"data":{"name":"bars"},"transform":[{"filter":"datum.p==='h'"}],"mark":{"type":"bar","width":12},"encoding":{"x":{"field":"i","type":"quantitative","axis":null},"y":{"field":"v","type":"quantitative"},"y2":{"datum":0},"color":{"field":"g","type":"nominal","legend":null}}},
 {"data":{"values":[{}]},"mark":{"type":"rule","color":"#555555","strokeWidth":1},"encoding":{"x":{"datum":-0.778,"type":"quantitative","axis":null},"x2":{"datum":5.698},"y":{"datum":0,"type":"quantitative"}}},
 {"data":{"values":[{"x":-0.84,"y":24.3,"txt":"Drug effect on AHP","g":"Control"}]},"mark":{"type":"text","align":"left","baseline":"middle","fontSize":12},
  "encoding":{"x":{"field":"x","type":"quantitative","axis":null},"y":{"field":"y","type":"quantitative"},"text":{"field":"txt"},"color":{"field":"g","type":"nominal","legend":null}}},
 {"data":{"values":[{"x":2.2,"y":-46.6,"txt":"**","g":"BAPTA"},{"x":3.2,"y":-45.9,"txt":"**","g":"Cadmium"}]},"mark":{"type":"text","align":"center","baseline":"middle","fontSize":12},
  "encoding":{"x":{"field":"x","type":"quantitative","axis":null},"y":{"field":"y","type":"quantitative"},"text":{"field":"txt"},"color":{"field":"g","type":"nominal","legend":null}}},
 {"data":{"values":[{"x":-3.51,"y":33.5,"txt":"h"}]},"mark":{"type":"text","align":"center","baseline":"middle","fontSize":20,"fontWeight":"bold","color":"#231f20"},"encoding":{"x":{"field":"x","type":"quantitative","axis":null},"y":{"field":"y","type":"quantitative"},"text":{"field":"txt"}}}
]}
]
}
